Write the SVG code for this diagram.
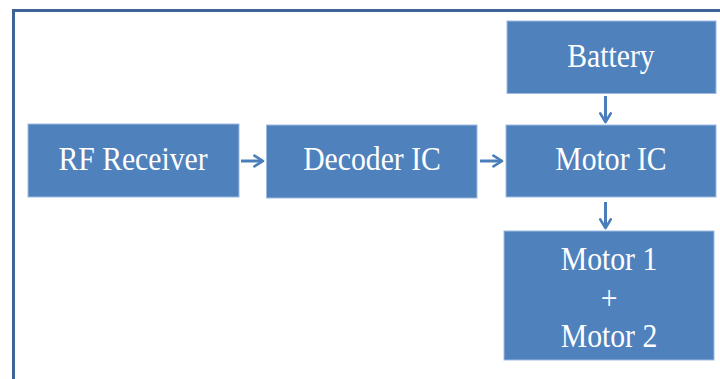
<svg xmlns="http://www.w3.org/2000/svg" width="720" height="379" viewBox="0 0 720 379">
<defs>
<style>
.box{fill:#4f81bd;stroke:#9dbbe0;stroke-width:1}
.lbl{font-family:"Liberation Serif","Times New Roman",serif;font-size:33px;fill:#ffffff;text-anchor:middle}
.conn{stroke:#4a7ebb;stroke-width:3;fill:none}
.frame{stroke:#3d6399;stroke-width:3;fill:none}
</style>
<marker id="ah" viewBox="0 0 10 10" refX="8" refY="5" markerWidth="4.4" markerHeight="4.4" orient="auto" markerUnits="strokeWidth">
<path d="M1.5,1 L8,5 L1.5,9" fill="none" stroke="#4a7ebb" stroke-width="2" stroke-linecap="round" stroke-linejoin="round"/>
</marker>
</defs>
<rect width="720" height="379" fill="#ffffff"/>
<path class="frame" d="M13.5,379 L13.5,10.5 L720,10.5"/>
<g id="rf-receiver"><rect class="box" x="28" y="124" width="211" height="73"/><text class="lbl" transform="translate(133,170) scale(0.9,1)">RF Receiver</text></g>
<g id="decoder-ic"><rect class="box" x="266.5" y="125" width="210.5" height="73"/><text class="lbl" transform="translate(372,170) scale(0.9,1)">Decoder IC</text></g>
<g id="battery"><rect class="box" x="507" y="21" width="209" height="72.5"/><text class="lbl" transform="translate(611,67) scale(0.9,1)">Battery</text></g>
<g id="motor-ic"><rect class="box" x="506" y="125" width="210" height="72"/><text class="lbl" transform="translate(611,170) scale(0.9,1)">Motor IC</text></g>
<g id="motors"><rect class="box" x="504" y="231" width="210" height="129"/><text class="lbl" transform="translate(609,270) scale(0.9,1)">Motor 1</text><text class="lbl" transform="translate(609,309) scale(0.9,1)">+</text><text class="lbl" transform="translate(609,347) scale(0.9,1)">Motor 2</text></g>
<g id="connectors">
<line class="conn" x1="241" y1="161" x2="263" y2="161" marker-end="url(#ah)"/>
<line class="conn" x1="480" y1="161" x2="502" y2="161" marker-end="url(#ah)"/>
<line class="conn" x1="605.5" y1="96" x2="605.5" y2="122" marker-end="url(#ah)"/>
<line class="conn" x1="605.5" y1="202" x2="605.5" y2="228" marker-end="url(#ah)"/>
</g>
</svg>
